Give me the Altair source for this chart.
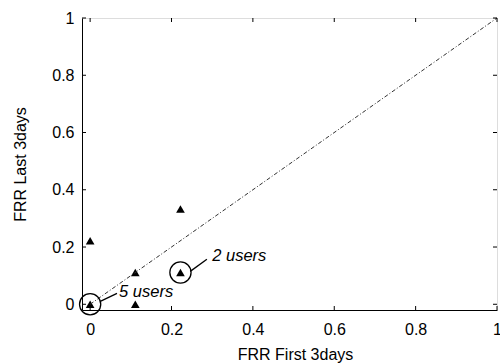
import altair as alt
import pandas as pd

# data points (FRR first 3 days vs FRR last 3 days)
frr_first = [0.0, 0.0, 0.111, 0.111, 0.222, 0.222]
frr_last = [0.222, 0.0, 0.111, 0.0, 0.333, 0.111]

# highlighted points with group counts
circ_x = [0.0, 0.222]
circ_y = [0.0, 0.111]
labels = ["5 users", "2 users"]
label_x = [0.071, 0.30]
label_y = [0.042, 0.167]
# leader lines (start, end)
lead_x1 = [0.025, 0.246]
lead_y1 = [0.01, 0.115]
lead_x2 = [0.066, 0.287]
lead_y2 = [0.038, 0.157]

ticks = [0, 0.2, 0.4, 0.6, 0.8, 1]
diag = [0, 1]

W, H = 415, 292
FONT = "Liberation Sans"
dom = [-0.02, 1]

pts = pd.DataFrame({"x": frr_first, "y": frr_last})
circ = pd.DataFrame({"x": circ_x, "y": circ_y})
lab = pd.DataFrame({"x": label_x, "y": label_y, "t": labels})
lead = pd.DataFrame({"x": lead_x1, "y": lead_y1, "x2": lead_x2, "y2": lead_y2})
tk = pd.DataFrame({"v": ticks})
dg = pd.DataFrame({"x": diag, "y": diag})

xs = alt.Scale(domain=dom, nice=False, zero=False)
ys = alt.Scale(domain=dom, nice=False, zero=False)

xax = alt.Axis(values=ticks, format="~g", tickSize=0, labelPadding=11, title="FRR First 3days",
               titlePadding=9, titleX=213, labelFontSize=16, titleFontSize=16, labelFont=FONT, titleFont=FONT,
               labelColor="black", titleColor="black", titleFontWeight="normal", grid=False,
               domainColor="black", labelFlush=False)
yax = alt.Axis(values=ticks, format="~g", tickSize=0, labelPadding=8, title="FRR Last 3days",
               titlePadding=23, labelFontSize=16, titleFontSize=16, labelFont=FONT, titleFont=FONT,
               labelColor="black", titleColor="black", titleFontWeight="normal", grid=False,
               domainColor="black", labelFlush=False)

base_pts = alt.Chart(pts).mark_point(shape="triangle-up", filled=True, color="black", size=75, opacity=1).encode(
    x=alt.X("x:Q", scale=xs, axis=xax),
    y=alt.Y("y:Q", scale=ys, axis=yax),
)

diag_line = alt.Chart(dg).mark_line(color="#333333", strokeWidth=1, strokeDash=[4, 2, 1, 2]).encode(
    x=alt.X("x:Q", scale=xs), y=alt.Y("y:Q", scale=ys))

circles = alt.Chart(circ).mark_point(shape="circle", filled=False, color="black", size=450,
                                      strokeWidth=1.3, opacity=1).encode(
    x=alt.X("x:Q", scale=xs), y=alt.Y("y:Q", scale=ys))

leaders = alt.Chart(lead).mark_rule(color="black", strokeWidth=1.3).encode(
    x=alt.X("x:Q", scale=xs), y=alt.Y("y:Q", scale=ys), x2="x2:Q", y2="y2:Q")

texts = alt.Chart(lab).mark_text(align="left", baseline="middle", fontStyle="italic", fontSize=16.5,
                                 font=FONT, color="black").encode(
    x=alt.X("x:Q", scale=xs), y=alt.Y("y:Q", scale=ys), text="t:N")

tick_b = alt.Chart(tk).mark_rule(color="black", strokeWidth=1).encode(
    x=alt.X("v:Q", scale=xs), y=alt.value(H), y2=alt.value(H - 4))
tick_t = alt.Chart(tk).mark_rule(color="black", strokeWidth=1).encode(
    x=alt.X("v:Q", scale=xs), y=alt.value(0), y2=alt.value(4))
tick_l = alt.Chart(tk).mark_rule(color="black", strokeWidth=1).encode(
    y=alt.Y("v:Q", scale=ys), x=alt.value(0), x2=alt.value(4))
tick_r = alt.Chart(tk).mark_rule(color="black", strokeWidth=1).encode(
    y=alt.Y("v:Q", scale=ys), x=alt.value(W), x2=alt.value(W - 4))

chart = alt.layer(base_pts, diag_line, circles, leaders, texts, tick_b, tick_t, tick_l, tick_r).properties(
    width=W, height=H,
    autosize=alt.AutoSizeParams(type="none"),
    padding={"left": 82, "top": 18, "right": 3, "bottom": 53},
).configure_view(stroke="black", strokeWidth=1.5).configure(background="white")

chart.save("out.html", embed_options={"renderer": "svg", "actions": False})
